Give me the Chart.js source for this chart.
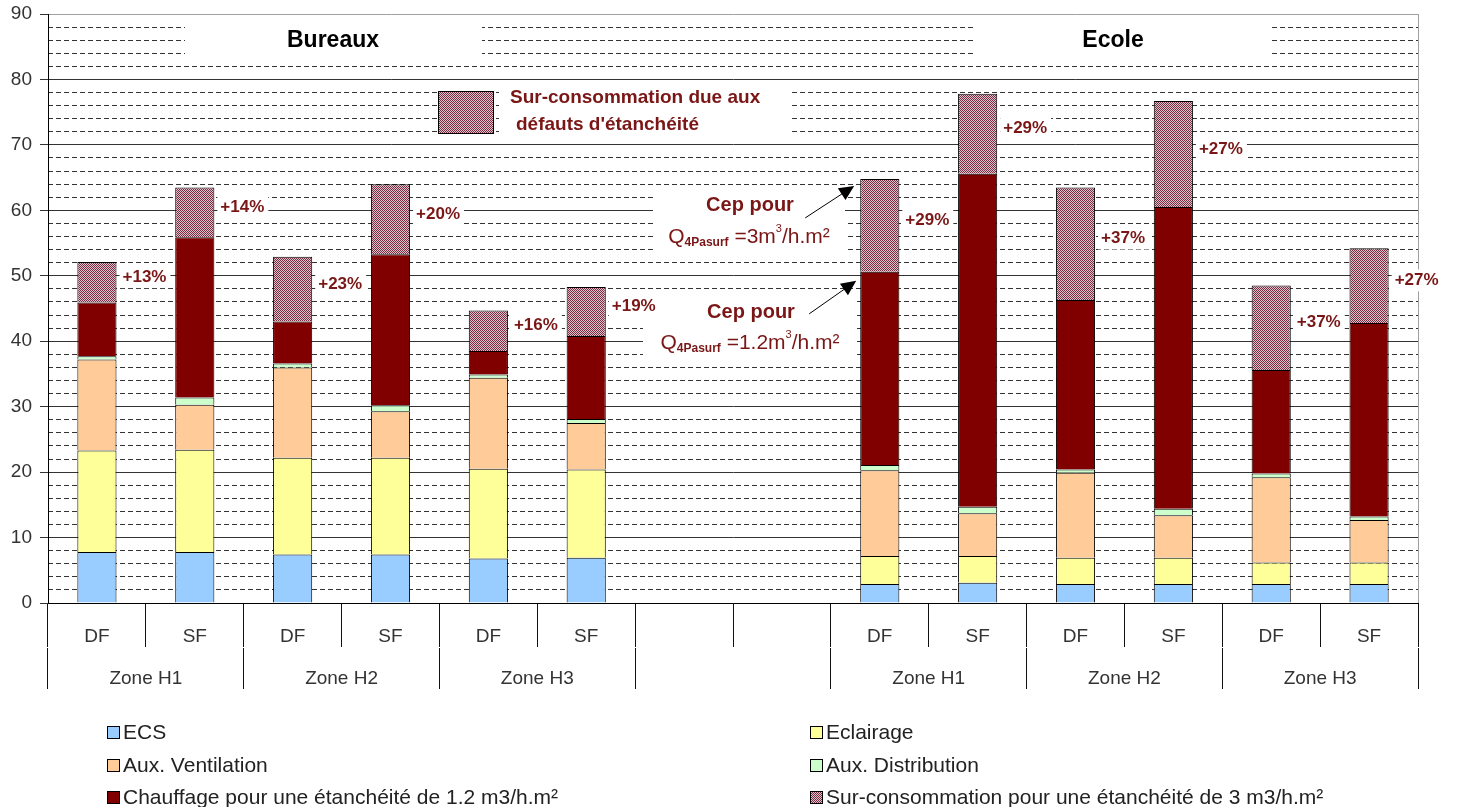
<!DOCTYPE html>
<html>
<head>
<meta charset="utf-8">
<script src="https://cdn.jsdelivr.net/npm/chart.js@4/dist/chart.umd.min.js"></script>
<style>
  body { margin: 0; background: #fff; }
  #wrap { position: relative; width: 1462px; height: 807px; }
</style>
</head>
<body>
<div id="wrap"><canvas id="cepChart"></canvas></div>
<script>
// categories (bottom row) and zone groups (second row)
var categories = ['DF', 'SF', 'DF', 'SF', 'DF', 'SF', '', '', 'DF', 'SF', 'DF', 'SF', 'DF', 'SF'];
var zones = ['Zone H1', 'Zone H2', 'Zone H3', '', 'Zone H1', 'Zone H2', 'Zone H3'];

// Cep breakdown, kWh/m2 (Bureaux then Ecole, two empty slots between)
var ecs          = [7.8, 7.8, 7.4, 7.4, 6.8, 6.9, null, null, 2.9, 3.1, 2.9, 2.9, 2.9, 2.9];
var eclairage    = [15.5, 15.6, 14.8, 14.8, 13.7, 13.5, null, null, 4.3, 4.1, 4.0, 4.0, 3.3, 3.3];
var ventilation  = [13.9, 6.9, 13.8, 7.1, 13.9, 7.1, null, null, 13.1, 6.5, 13.0, 6.5, 13.0, 6.5];
var distribution = [0.5, 1.1, 0.6, 0.9, 0.5, 0.6, null, null, 0.8, 1.0, 0.5, 1.0, 0.6, 0.5];
var chauffage    = [8.2, 24.5, 6.4, 23.1, 3.6, 12.7, null, null, 29.5, 50.9, 25.9, 46.1, 15.8, 29.6];
var surconso     = [6.2, 7.6, 9.9, 10.7, 6.2, 7.5, null, null, 14.2, 12.2, 17.2, 16.2, 12.9, 11.4];
var surLabels    = ['+13%', '+14%', '+23%', '+20%', '+16%', '+19%', '', '', '+29%', '+29%', '+37%', '+27%', '+37%', '+27%'];

var yMin = 0, yMax = 90, yMajor = 10, yMinor = 2;

var FONT = "'Liberation Sans', Arial, sans-serif";
var RED_TXT = '#7a1616';
Chart.defaults.font.family = FONT;

var canvas = document.getElementById('cepChart');
var ctx = canvas.getContext('2d');

// fine checker fill used for the over-consumption part
function checker() {
    var c = document.createElement('canvas');
    c.width = 2; c.height = 2;
    var g = c.getContext('2d');
    g.fillStyle = '#dcc2ca';
    g.fillRect(0, 0, 2, 2);
    g.fillStyle = '#7a2c42';
    g.fillRect(0, 0, 1, 1);
    g.fillRect(1, 1, 1, 1);
    return ctx.createPattern(c, 'repeat');
}
var surFill = checker();

function ds(label, data, color) {
    return {
        label: label,
        data: data,
        backgroundColor: color,
        borderColor: '#000',
        borderWidth: 1,
        stack: 'cep',
        categoryPercentage: 1,
        barPercentage: 0.4
    };
}

function textBox(c, txt, x, y, font, color, align) {
    c.font = font;
    c.textAlign = align || 'left';
    c.textBaseline = 'middle';
    c.fillStyle = color;
    c.fillText(txt, x, y);
}

function whiteRect(c, x0, y0, x1, y1) {
    c.fillStyle = '#fff';
    c.fillRect(x0, y0, x1 - x0, y1 - y0);
}

// "Q4Pasurf =..m3/h.m2" line with sub/superscripts
function qLine(c, x, y, val) {
    var parts = [
        { t: 'Q', f: '21px ' + FONT, dy: 0 },
        { t: '4Pasurf', f: 'bold 12px ' + FONT, dy: 6 },
        { t: ' =' + val + 'm', f: '21px ' + FONT, dy: 0 },
        { t: '3', f: '11px ' + FONT, dy: -8 },
        { t: '/h.m\u00b2', f: '21px ' + FONT, dy: 0 }
    ];
    var w = 0;
    parts.forEach(function (p) { c.font = p.f; w += c.measureText(p.t).width; });
    var cx = x - w / 2;
    c.textAlign = 'left';
    c.textBaseline = 'middle';
    c.fillStyle = RED_TXT;
    parts.forEach(function (p) {
        c.font = p.f;
        c.fillText(p.t, cx, y + p.dy);
        cx += c.measureText(p.t).width;
    });
}

function arrow(c, x1, y1, x2, y2) {
    var a = Math.atan2(y2 - y1, x2 - x1);
    c.strokeStyle = '#000';
    c.lineWidth = 1;
    c.beginPath();
    c.moveTo(x1, y1);
    c.lineTo(x2 - 10 * Math.cos(a), y2 - 10 * Math.sin(a));
    c.stroke();
    c.fillStyle = '#000';
    c.beginPath();
    c.moveTo(x2, y2);
    c.lineTo(x2 - 15 * Math.cos(a) + 7 * Math.sin(a), y2 - 15 * Math.sin(a) - 7 * Math.cos(a));
    c.lineTo(x2 - 15 * Math.cos(a) - 7 * Math.sin(a), y2 - 15 * Math.sin(a) + 7 * Math.cos(a));
    c.closePath();
    c.fill();
}

function cumul(i, upto) {
    var arr = [ecs, eclairage, ventilation, distribution, chauffage, surconso];
    var s = 0;
    for (var k = 0; k < upto; k++) s += arr[k][i] || 0;
    return s;
}

var notes = {
    id: 'notes',
    beforeDatasetsDraw: function (chart) {
        var c = chart.ctx, area = chart.chartArea, y = chart.scales.y;
        c.save();
        // light frame on the right of the plot
        c.strokeStyle = '#a0a0a0';
        c.lineWidth = 1;
        c.beginPath();
        c.moveTo(area.right + 0.5, area.top);
        c.lineTo(area.right + 0.5, area.bottom);
        c.stroke();

        // group titles
        whiteRect(c, 185, 20, 482, 61);
        textBox(c, 'Bureaux', 333, 41, 'bold 23px ' + FONT, '#000', 'center');
        whiteRect(c, 973, 20, 1272, 61);
        textBox(c, 'Ecole', 1113, 41, 'bold 23px ' + FONT, '#000', 'center');

        // in-plot key for the hatched part
        c.fillStyle = surFill;
        c.fillRect(438, 91, 55, 42);
        c.strokeStyle = '#000';
        c.strokeRect(438.5, 91.5, 55, 42);
        whiteRect(c, 499, 84, 792, 140);
        textBox(c, 'Sur-consommation due aux', 510, 98, 'bold 19px ' + FONT, RED_TXT);
        textBox(c, 'd\u00e9fauts d\'\u00e9tanch\u00e9it\u00e9', 516, 125, 'bold 19px ' + FONT, RED_TXT);

        // Cep call-outs
        whiteRect(c, 653, 190, 845, 256);
        textBox(c, 'Cep pour', 750, 205, 'bold 20px ' + FONT, RED_TXT, 'center');
        qLine(c, 749, 237, '3');
        whiteRect(c, 643, 294, 857, 358);
        textBox(c, 'Cep pour', 751, 312, 'bold 20px ' + FONT, RED_TXT, 'center');
        qLine(c, 750, 343, '1.2');

        // percentage labels beside each bar
        var meta = chart.getDatasetMeta(5);
        c.font = 'bold 17px ' + FONT;
        surLabels.forEach(function (txt, i) {
            if (!txt) return;
            var bar = meta.data[i];
            var mid = cumul(i, 5) + surconso[i] / 2 + 0.8;
            var tx = bar.x + bar.width / 2 + 6;
            var ty = y.getPixelForValue(mid);
            var w = c.measureText(txt).width;
            whiteRect(c, tx - 3, ty - 11, tx + w + 4, ty + 11);
            textBox(c, txt, tx, ty, 'bold 17px ' + FONT, RED_TXT);
        });
        c.restore();
    },
    afterDatasetsDraw: function (chart) {
        var c = chart.ctx, y = chart.scales.y;
        var bar = chart.getDatasetMeta(5).data[8];
        var left = bar.x - bar.width / 2;
        c.save();
        var t1 = { x: left - 6, y: y.getPixelForValue(cumul(8, 6)) + 7 };
        arrow(c, t1.x - 49, t1.y + 32, t1.x, t1.y);
        var t2 = { x: left - 4, y: y.getPixelForValue(cumul(8, 5)) + 9 };
        arrow(c, t2.x - 47, t2.y + 33, t2.x, t2.y);
        c.restore();
    },
    afterDraw: function (chart) {
        // two-column key under the axis
        var c = chart.ctx;
        var cols = [107, 810], rows = [733, 766, 798];
        c.save();
        chart.data.datasets.forEach(function (d, i) {
            var x = cols[i % 2], yy = rows[Math.floor(i / 2)];
            c.fillStyle = d.backgroundColor;
            c.fillRect(x, yy - 7, 13, 13);
            c.strokeStyle = '#000';
            c.lineWidth = 1;
            c.strokeRect(x + 0.5, yy - 6.5, 12, 12);
            textBox(c, d.label, x + 16, yy, '21px ' + FONT, '#222');
        });
        c.restore();
    }
};

new Chart(ctx, {
    type: 'bar',
    data: {
        labels: categories,
        datasets: [
            ds('ECS', ecs, '#99ccff'),
            ds('Eclairage', eclairage, '#ffff99'),
            ds('Aux. Ventilation', ventilation, '#ffcc99'),
            ds('Aux. Distribution', distribution, '#ccffcc'),
            ds('Chauffage pour une \u00e9tanch\u00e9it\u00e9 de 1.2 m3/h.m\u00b2', chauffage, '#800000'),
            ds('Sur-consommation pour une \u00e9tanch\u00e9it\u00e9 de 3 m3/h.m\u00b2', surconso, surFill)
        ]
    },
    options: {
        responsive: true,
        maintainAspectRatio: false,
        animation: false,
        layout: {
            padding: { left: 0, right: 44, top: 14, bottom: 118 }
        },
        plugins: {
            legend: { display: false },
            tooltip: { enabled: false }
        },
        scales: {
            y: {
                min: yMin,
                max: yMax,
                stacked: true,
                afterFit: function (s) { s.width = 48; s.paddingTop = 0; s.paddingBottom = 0; },
                ticks: {
                    stepSize: yMajor,
                    padding: 8,
                    color: '#333',
                    font: { size: 19 }
                },
                grid: {
                    color: function (c) { return c.tick && c.tick.value === yMax ? '#a0a0a0' : '#333'; },
                    lineWidth: 1,
                    tickLength: 8,
                    tickColor: '#333'
                },
                border: { color: '#000', width: 1 }
            },
            yMinor: {
                min: yMin,
                max: yMax,
                position: 'left',
                afterFit: function (s) { s.width = 0; s.paddingTop = 0; s.paddingBottom = 0; },
                ticks: { display: false, stepSize: yMinor },
                grid: {
                    drawTicks: false,
                    color: function (c) {
                        return c.tick && c.tick.value % yMajor === 0 ? 'rgba(0,0,0,0)' : '#333';
                    }
                },
                border: { display: false, dash: [5, 3] }
            },
            x: {
                stacked: true,
                afterFit: function (s) { s.height = 45; },
                ticks: {
                    padding: -22,
                    color: '#333',
                    font: { size: 19 },
                    maxRotation: 0,
                    autoSkip: false
                },
                grid: {
                    offset: true,
                    drawOnChartArea: false,
                    tickLength: 44,
                    color: '#111'
                },
                border: { color: '#000', width: 1 }
            },
            zone: {
                type: 'category',
                labels: zones,
                position: 'bottom',
                afterFit: function (s) { s.height = 41; },
                ticks: {
                    padding: -22,
                    color: '#333',
                    font: { size: 19 },
                    maxRotation: 0,
                    autoSkip: false
                },
                grid: {
                    offset: true,
                    drawOnChartArea: false,
                    tickLength: 41,
                    color: '#111'
                },
                border: { display: false }
            }
        }
    },
    plugins: [notes]
});
</script>
</body>
</html>
